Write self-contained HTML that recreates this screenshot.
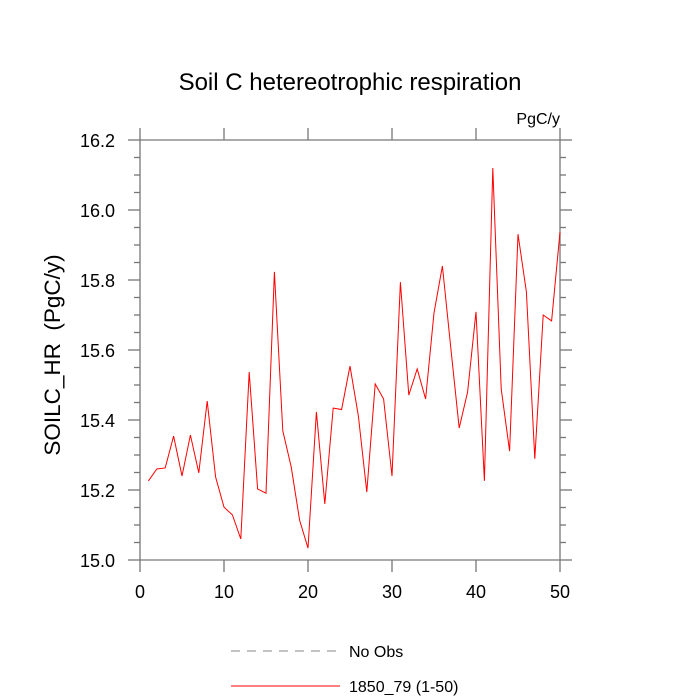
<!DOCTYPE html>
<html><head><meta charset="utf-8"><style>body{margin:0;background:#fff}svg{display:block}text{font-family:"Liberation Sans",sans-serif}</style></head>
<body>
<svg id="chart" width="700" height="700" xmlns="http://www.w3.org/2000/svg">
<text x="350" y="90" font-size="24" text-anchor="middle">Soil C hetereotrophic respiration</text>
<text x="560" y="124" font-size="16" text-anchor="end">PgC/y</text>
<text transform="translate(60,355) rotate(-90)" font-size="22.5" text-anchor="middle" xml:space="preserve" style="white-space:pre">SOILC_HR  (PgC/y)</text>
<g id="axes"></g>
<polyline id="series" fill="none" stroke="#ff0000" stroke-width="1"/>
<g>
<line x1="231" y1="651" x2="340" y2="651" stroke="#888" stroke-dasharray="9,7"/>
<text x="349" y="657" font-size="16">No Obs</text>
<line x1="231" y1="686" x2="340" y2="686" stroke="#ff0000"/>
<text x="349" y="692" font-size="16">1850_79 (1-50)</text>
</g>
</svg>
<script>
const years=[1,2,3,4,5,6,7,8,9,10,11,12,13,14,15,16,17,18,19,20,21,22,23,24,25,26,27,28,29,30,31,32,33,34,35,36,37,38,39,40,41,42,43,44,45,46,47,48,49,50];
const values=[15.226,15.26,15.263,15.354,15.24,15.357,15.249,15.454,15.237,15.151,15.129,15.06,15.537,15.203,15.191,15.823,15.369,15.266,15.114,15.034,15.423,15.16,15.434,15.43,15.554,15.411,15.194,15.503,15.46,15.24,15.794,15.471,15.546,15.46,15.706,15.84,15.606,15.377,15.48,15.709,15.226,16.12,15.489,15.311,15.931,15.766,15.289,15.7,15.683,15.937];
const xTicks=[0,10,20,30,40,50];
const yTicks=[15.0,15.2,15.4,15.6,15.8,16.0,16.2];
const L=140,R=560,T=140,B=560,xMin=0,xMax=50,yMin=15,yMax=16.2;
const sx=v=>L+(v-xMin)/(xMax-xMin)*(R-L);
const sy=v=>B-(v-yMin)/(yMax-yMin)*(B-T);
const NS='http://www.w3.org/2000/svg';
const ax=document.getElementById('axes');
function ln(x1,y1,x2,y2,name){const e=document.createElementNS(NS,'line');e.setAttribute('x1',x1);e.setAttribute('y1',y1);e.setAttribute('x2',x2);e.setAttribute('y2',y2);e.setAttribute('stroke','#777');e.setAttribute('stroke-width','1.3');


ax.appendChild(e);}
function tx(x,y,s,anchor,name){const e=document.createElementNS(NS,'text');e.setAttribute('x',x);e.setAttribute('y',y);e.setAttribute('font-size','18');e.setAttribute('text-anchor',anchor);e.textContent=s;


ax.appendChild(e);}
ln(L,T,R,T,'plot-frame-top');ln(L,B,R,B,'plot-frame-bottom');ln(L,T,L,B,'plot-frame-left');ln(R,T,R,B,'plot-frame-right');
xTicks.forEach(v=>{const x=sx(v);ln(x,B,x,B+12,'x-tick');ln(x,T,x,T-12,'x-tick-top');tx(x,B+38,String(v),'middle','x-tick-label');});
yTicks.forEach(v=>{const y=sy(v);ln(L,y,L-12,y,'y-tick');ln(R,y,R+12,y,'y-tick-right');tx(L-25,y+7,v.toFixed(1),'end','y-tick-label');});
for(let v=yMin;v<yMax-0.001;v+=0.05){if(Math.abs((v-yMin)/0.2-Math.round((v-yMin)/0.2))<0.01)continue;const y=sy(v);ln(L,y,L-6,y,'y-minor-tick');ln(R,y,R+6,y,'y-minor-tick-right');}
document.getElementById('series').setAttribute('points',years.map((y,i)=>sx(y)+','+sy(values[i])).join(' '));
</script>
</body></html>
